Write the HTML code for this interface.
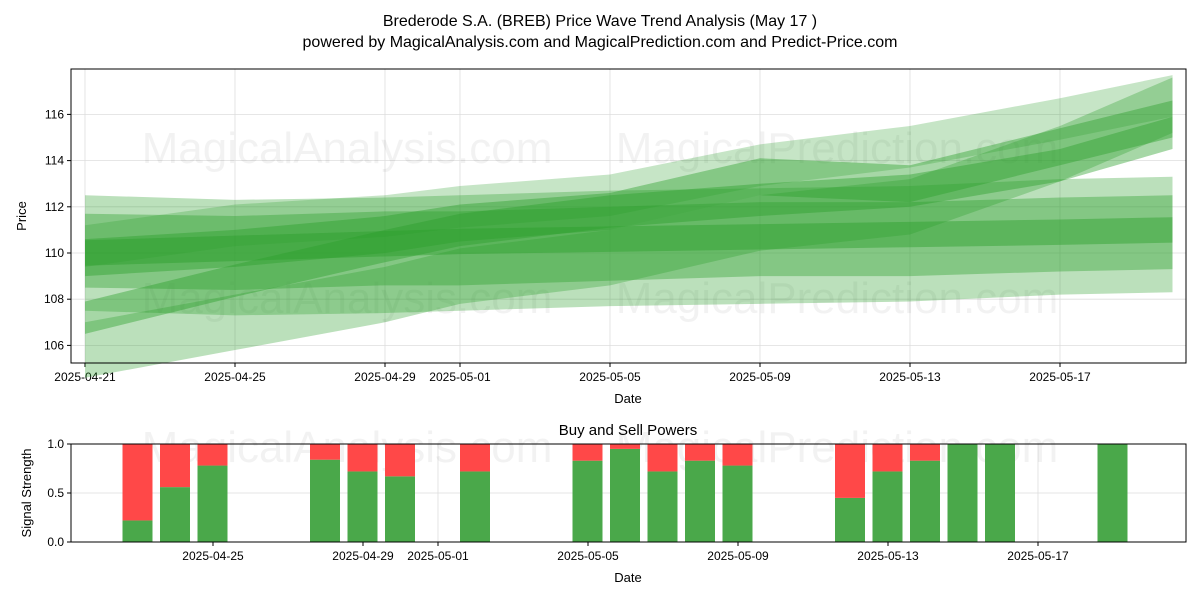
<!DOCTYPE html>
<html><head><meta charset="utf-8">
<style>
body{margin:0;background:#fff;}
svg{display:block;font-family:"Liberation Sans","DejaVu Sans",sans-serif;}
</style></head>
<body>
<svg id="chart" width="1200" height="600" viewBox="0 0 1200 600">
<text x="600" y="26" text-anchor="middle" font-size="16">Brederode S.A. (BREB) Price Wave Trend Analysis (May 17 )</text>
<text x="600" y="47" text-anchor="middle" font-size="16">powered by MagicalAnalysis.com and MagicalPrediction.com and Predict-Price.com</text>
<g id="topPlot"></g>
<g id="botPlot"></g>
</svg>
<script>
// ---- data ----
const bandDays = [0,4,8,10,14,18,22,26,29]; // days since 2025-04-21
const bandA = [110.1,110.0,110.2,110.2,110.4,110.6,110.6,110.8,110.9];
const bandB = [110.0,110.2,110.4,110.5,110.6,110.7,110.8,110.9,111.0];
const bandC = [107.2,108.8,110.3,111.0,111.8,112.3,112.7,113.8,115.2];
const bandD = [109.8,110.2,110.8,111.3,111.8,113.3,113.0,114.6,115.8];
const bandE = [105.8,107.0,108.2,109.0,109.8,111.3,112.0,114.3,116.4];
const bandF = [110.3,111.2,111.6,112.0,112.5,113.8,114.6,115.8,116.8];
const bandG = [110.0,109.8,109.9,110.0,110.2,110.3,110.4,110.7,110.8];
const bandWidths = [1.6,0.55,0.7,0.8,1.2,0.9,2.5];
const bandAlphas = [0.38,0.45,0.42,0.42,0.32,0.27,0.32];
const yTicks = [106,108,110,112,114,116];
const xTickDays = [0,4,8,10,14,18,22,26];
const xTickLabels = ["2025-04-21","2025-04-25","2025-04-29","2025-05-01","2025-05-05","2025-05-09","2025-05-13","2025-05-17"];
const sigDays = [2,3,4,7,8,9,11,14,15,16,17,18,21,22,23,24,25,28];
const sigBuy = [0.22,0.56,0.78,0.84,0.72,0.67,0.72,0.83,0.95,0.72,0.83,0.78,0.45,0.72,0.83,1.0,1.0,1.0];
const sigTicks = [0,0.5,1.0];
const sigXDays = [4,8,10,14,18,22,26];
const sigXLabels = ["2025-04-25","2025-04-29","2025-05-01","2025-05-05","2025-05-09","2025-05-13","2025-05-17"];

const NS="http://www.w3.org/2000/svg";
function mk(p,tag,attrs){const e=document.createElementNS(NS,tag);for(const k in attrs)e.setAttribute(k,attrs[k]);p.appendChild(e);return e;}
const topG=document.getElementById('topPlot'), botG=document.getElementById('botPlot');
const L=71,R=1186,T=69,B=363;
const xs=d=>85+d*37.5;
const ys=v=>253-(v-110)*23.1;
for(let i=0;i<yTicks.length;i++){const y=ys(yTicks[i]);
 const g=mk(topG,'line',{x1:L,x2:R,y1:y,y2:y,stroke:'#ddd','stroke-width':0.8});
 
 
 mk(topG,'line',{x1:L-4,x2:L,y1:y,y2:y,stroke:'#000'});
 const t=mk(topG,'text',{x:L-7,y:y+4,'text-anchor':'end','font-size':12});t.textContent=yTicks[i];
 
 }
for(let i=0;i<xTickDays.length;i++){const x=xs(xTickDays[i]);
 const g=mk(topG,'line',{x1:x,x2:x,y1:T,y2:B,stroke:'#ddd','stroke-width':0.8});
 
 
 mk(topG,'line',{x1:x,x2:x,y1:B,y2:B+4,stroke:'#000'});
 const t=mk(topG,'text',{x:x,y:B+18,'text-anchor':'middle','font-size':12});t.textContent=xTickLabels[i];
 
 }
const wm=[[347,163,'MagicalAnalysis.com'],[837,163,'MagicalPrediction.com'],[347,313,'MagicalAnalysis.com'],[837,313,'MagicalPrediction.com']];
wm.forEach(w=>{const t=mk(topG,'text',{x:w[0],y:w[1],'text-anchor':'middle','font-size':44,fill:'#000','fill-opacity':0.05});t.textContent=w[2];
 
 });
const bands=[bandA,bandB,bandC,bandD,bandE,bandF,bandG];
bands.forEach((b,bi)=>{const hw=bandWidths[bi];
 let up=b.map((v,i)=>xs(bandDays[i])+','+ys(v+hw));
 let dn=b.map((v,i)=>xs(bandDays[i])+','+ys(v-hw)).reverse();
 const p=mk(topG,'polygon',{points:up.concat(dn).join(' '),fill:'#2ca02c','fill-opacity':bandAlphas[bi]});
 
 });
mk(topG,'rect',{x:L,y:T,width:R-L,height:B-T,fill:'none',stroke:'#000'});
let t=mk(topG,'text',{x:628,y:403,'text-anchor':'middle','font-size':13});t.textContent='Date';


t=mk(topG,'text',{x:26,y:216,'text-anchor':'middle','font-size':13,transform:'rotate(-90 26 216)'});t.textContent='Price';


// bottom
const BT=444,BB=542;
const bx=d=>63+d*37.5;
const by=v=>BB-v*(BB-BT);
t=mk(botG,'text',{x:628,y:435,'text-anchor':'middle','font-size':15});t.textContent='Buy and Sell Powers';


sigTicks.forEach(v=>{const y=by(v);
 mk(botG,'line',{x1:L,x2:R,y1:y,y2:y,stroke:'#ddd','stroke-width':0.8});
 mk(botG,'line',{x1:L-4,x2:L,y1:y,y2:y,stroke:'#000'});
 const tt=mk(botG,'text',{x:L-7,y:y+4,'text-anchor':'end','font-size':12});tt.textContent=v.toFixed(1);
 
 });
sigXDays.forEach((d,i)=>{const x=bx(d);
 mk(botG,'line',{x1:x,x2:x,y1:BT,y2:BB,stroke:'#ddd','stroke-width':0.8});
 mk(botG,'line',{x1:x,x2:x,y1:BB,y2:BB+4,stroke:'#000'});
 const tt=mk(botG,'text',{x:x,y:BB+18,'text-anchor':'middle','font-size':12});tt.textContent=sigXLabels[i];
 
 });
[[347,462,'MagicalAnalysis.com'],[837,462,'MagicalPrediction.com']].forEach(w=>{const tt=mk(botG,'text',{x:w[0],y:w[1],'text-anchor':'middle','font-size':44,fill:'#000','fill-opacity':0.05});tt.textContent=w[2];
 
 });
sigDays.forEach((d,i)=>{const x=bx(d)-15.5, g=sigBuy[i];
 const r1=mk(botG,'rect',{x:x,y:by(g),width:30,height:by(0)-by(g),fill:'#4aa84a'});
 
 
 const r2=mk(botG,'rect',{x:x,y:by(1),width:30,height:by(g)-by(1),fill:'#ff4848'});
 
 });
mk(botG,'rect',{x:L,y:BT,width:R-L,height:BB-BT,fill:'none',stroke:'#000'});
t=mk(botG,'text',{x:628,y:582,'text-anchor':'middle','font-size':13});t.textContent='Date';


t=mk(botG,'text',{x:31,y:493,'text-anchor':'middle','font-size':13,transform:'rotate(-90 31 493)'});t.textContent='Signal Strength';


</script>
</body></html>
